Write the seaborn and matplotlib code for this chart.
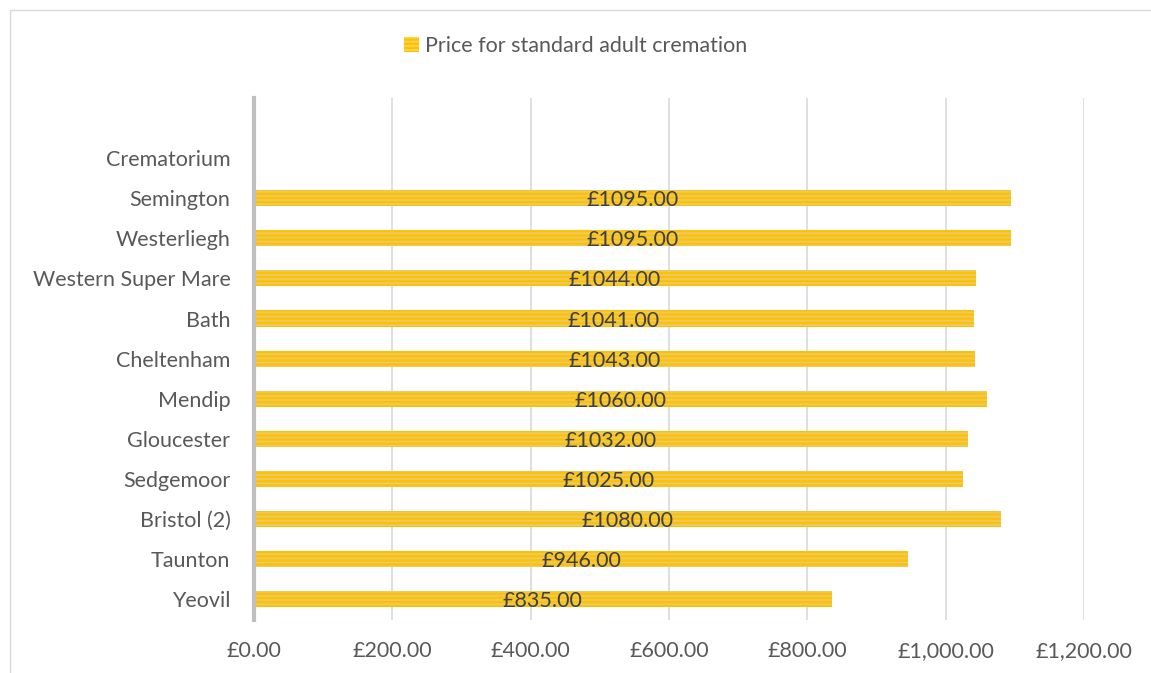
import pandas as pd
import matplotlib.pyplot as plt
import seaborn as sns
from matplotlib.patches import Rectangle, Patch
from matplotlib.ticker import FuncFormatter

crematoria = ["Crematorium", "Semington", "Westerliegh", "Western Super Mare", "Bath",
              "Cheltenham", "Mendip", "Gloucester", "Sedgemoor", "Bristol (2)",
              "Taunton", "Yeovil"]
prices = [None, 1095, 1095, 1044, 1041, 1043, 1060, 1032, 1025, 1080, 946, 835]
series_name = "Price for standard adult cremation"

df = pd.DataFrame({"crematorium": crematoria, "price": prices})

sns.set_style("white")
plt.rcParams['font.family'] = ['Lato', 'DejaVu Sans']
plt.rcParams['hatch.linewidth'] = 1.6
text_col = "#595959"

fig = plt.figure(figsize=(11.51, 6.73), dpi=100)
ax = fig.add_axes([254 / 1151, 1 - 620 / 673, 830 / 1151, 522 / 673])

sns.barplot(data=df, y="crematorium", x="price", order=crematoria, orient="h",
            color="#FFD54F", width=0.4, ax=ax, errorbar=None)

for p in ax.patches:
    p.set_hatch("----")
    p.set_edgecolor("#FFC000")
    p.set_linewidth(0)

# data labels centred in each bar
for i, v in enumerate(prices):
    if v is None:
        continue
    ax.text(v / 2, i + 0.05, f"£{v:.2f}", ha="center", va="center",
            fontsize=15.5, color="#404040")

ax.set_xlim(0, 1200)
ax.set_xticks(range(0, 1201, 200))
ax.xaxis.set_major_formatter(FuncFormatter(lambda x, _: f"£{x:,.2f}"))
ax.set_ylim(11.52, -1.5)
ax.grid(axis="x", color="#D9D9D9", linewidth=1.2)
ax.set_axisbelow(True)
for s in ["top", "right", "bottom"]:
    ax.spines[s].set_visible(False)
ax.spines["left"].set_color("#BFBFBF")
ax.spines["left"].set_linewidth(3)
ax.tick_params(axis="both", length=0, labelsize=15.5, labelcolor=text_col)
ax.tick_params(axis="x", pad=15)
ax.tick_params(axis="y", pad=17)
ax.set_xlabel("")
ax.set_ylabel("")

handle = Patch(facecolor="#FFD54F", edgecolor="#FFC000", hatch="----", linewidth=0)
fig.legend([handle], [series_name], loc="center", bbox_to_anchor=(0.5, 1 - 46 / 673),
           frameon=False, fontsize=15.5, labelcolor=text_col, handlelength=0.7,
           handleheight=0.7, handletextpad=0.3)

fig.patches.append(Rectangle((10 / 1151, -0.1), 1.2, 1.1 - 10 / 673, transform=fig.transFigure,
                             fill=False, edgecolor="#D9D9D9", linewidth=1))

fig.savefig("out.png", dpi=100)
